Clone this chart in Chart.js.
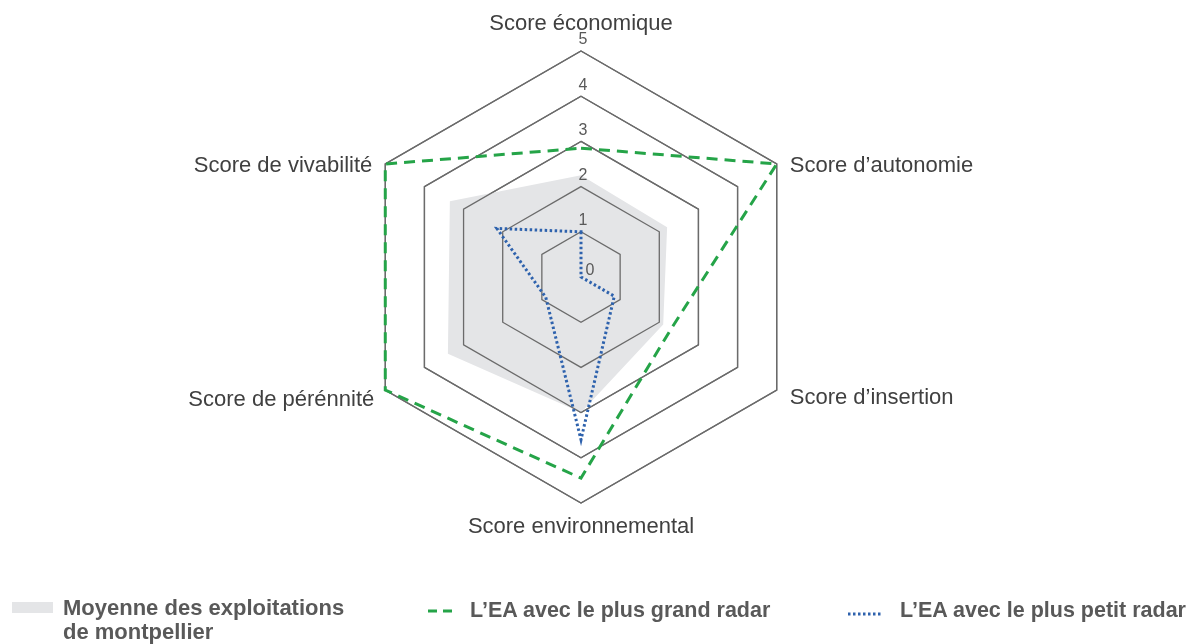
<!DOCTYPE html>
<html>
<head>
<meta charset="utf-8">
<script src="https://cdn.jsdelivr.net/npm/chart.js@4.4.0/dist/chart.umd.min.js"></script>
<style>
  body { margin: 0; background: #fff; font-family: "Liberation Sans", Arial, sans-serif; }
  #wrap { position: relative; width: 1198px; height: 644px; }
  .leg { position: absolute; font-weight: bold; font-size: 21.5px; line-height: 24px; color: #595959; white-space: nowrap; }
  .sw { position: absolute; }
</style>
</head>
<body>
<div id="wrap">
  <canvas id="radar" width="1198" height="644"></canvas>

  <div class="sw" style="left:12px; top:602px; width:41px; height:11px; background:#e4e5e7;"></div>
  <div class="leg" style="left:63px; top:596px; font-size:22px;">Moyenne des exploitations<br>de montpellier</div>

  <svg class="sw" style="left:426px; top:605px;" width="30" height="12">
    <line x1="2" y1="6" x2="26" y2="6" stroke="#25a448" stroke-width="3" stroke-dasharray="9 6"/>
  </svg>
  <div class="leg" style="left:470px; top:598px;">L’EA avec le plus grand radar</div>

  <svg class="sw" style="left:846px; top:608px;" width="40" height="12">
    <line x1="2" y1="6" x2="37" y2="6" stroke="#2e62ad" stroke-width="3" stroke-dasharray="2.5 2.5"/>
  </svg>
  <div class="leg" style="left:900px; top:598px;">L’EA avec le plus petit radar</div>
</div>

<script>
// axes (clockwise from the top)
var labels = ['Score économique', 'Score d’autonomie', 'Score d’insertion', 'Score environnemental', 'Score de pérénnité', 'Score de vivabilité'];

// series
var moyenne = [2.25, 2.2, 2.1, 3.0, 3.4, 3.35];
var plusGrand = [2.85, 5, 2.3, 4.45, 5, 5];
var plusPetit = [1, 0, 0.85, 3.6, 0.9, 2.15];

// tick labels on the radial axis
var tickValues = [0, 1, 2, 3, 4, 5];

// grid drawn again over the grey area, under the two lines
var gridOverFill = {
  id: 'gridOverFill',
  afterDatasetDraw: function (chart, args) {
    if (args.index === 0) {
      var r = chart.scales.r;
      if (typeof r.drawGrid === 'function') r.drawGrid();
    }
  }
};

// axis texts and tick numbers, placed from the scale
var radarTexts = {
  id: 'radarTexts',
  afterDraw: function (chart) {
    var r = chart.scales.r;
    var ctx = chart.ctx;
    ctx.save();

    ctx.font = '22px "Liberation Sans", Arial, sans-serif';
    ctx.fillStyle = '#404040';
    ctx.textBaseline = 'alphabetic';
    var place = [
      { dx: 0, dy: -21, align: 'center' },
      { dx: 13, dy: 8, align: 'left' },
      { dx: 13, dy: 14, align: 'left' },
      { dx: 0, dy: 30, align: 'center' },
      { dx: -11, dy: 16, align: 'right' },
      { dx: -13, dy: 8, align: 'right' }
    ];
    labels.forEach(function (lab, i) {
      var p = r.getPointPosition(i, r.drawingArea);
      ctx.textAlign = place[i].align;
      ctx.fillText(lab, p.x + place[i].dx, p.y + place[i].dy);
    });

    ctx.font = '16px "Liberation Sans", Arial, sans-serif';
    ctx.fillStyle = '#595959';
    ctx.textAlign = 'center';
    ctx.textBaseline = 'middle';
    tickValues.forEach(function (v) {
      var d = r.getDistanceFromCenterForValue(v);
      if (v === 0) {
        ctx.fillText(String(v), r.xCenter + 9, r.yCenter - 6);
      } else {
        ctx.fillText(String(v), r.xCenter + 2, r.yCenter - d - 11);
      }
    });
    ctx.restore();
  }
};

var ctx = document.getElementById('radar').getContext('2d');
var radarChart = new Chart(ctx, {
  type: 'radar',
  data: {
    labels: labels,
    datasets: [{
      label: 'Moyenne des exploitations de montpellier',
      data: moyenne,
      backgroundColor: '#e4e5e7',
      borderWidth: 0,
      fill: true,
      pointRadius: 0,
      order: 3
    }, {
      label: 'L’EA avec le plus grand radar',
      data: plusGrand,
      borderColor: '#25a448',
      borderWidth: 3,
      borderDash: [11, 7],
      fill: false,
      pointRadius: 0,
      tension: 0,
      order: 2
    }, {
      label: 'L’EA avec le plus petit radar',
      data: plusPetit,
      borderColor: '#2e62ad',
      borderWidth: 3,
      borderDash: [2.5, 2.5],
      fill: false,
      pointRadius: 0,
      tension: 0,
      order: 1
    }]
  },
  options: {
    responsive: false,
    animation: false,
    devicePixelRatio: 1,
    layout: {
      padding: { top: 51, bottom: 141, left: 281, right: 317 }
    },
    plugins: {
      legend: { display: false },
      tooltip: { enabled: false }
    },
    scales: {
      r: {
        min: 0,
        max: 5,
        ticks: { stepSize: 1, display: false },
        grid: { color: '#6b6b6b', lineWidth: 1.3 },
        angleLines: { display: false },
        pointLabels: { display: false }
      }
    }
  },
  plugins: [gridOverFill, radarTexts]
});
</script>
</body>
</html>
